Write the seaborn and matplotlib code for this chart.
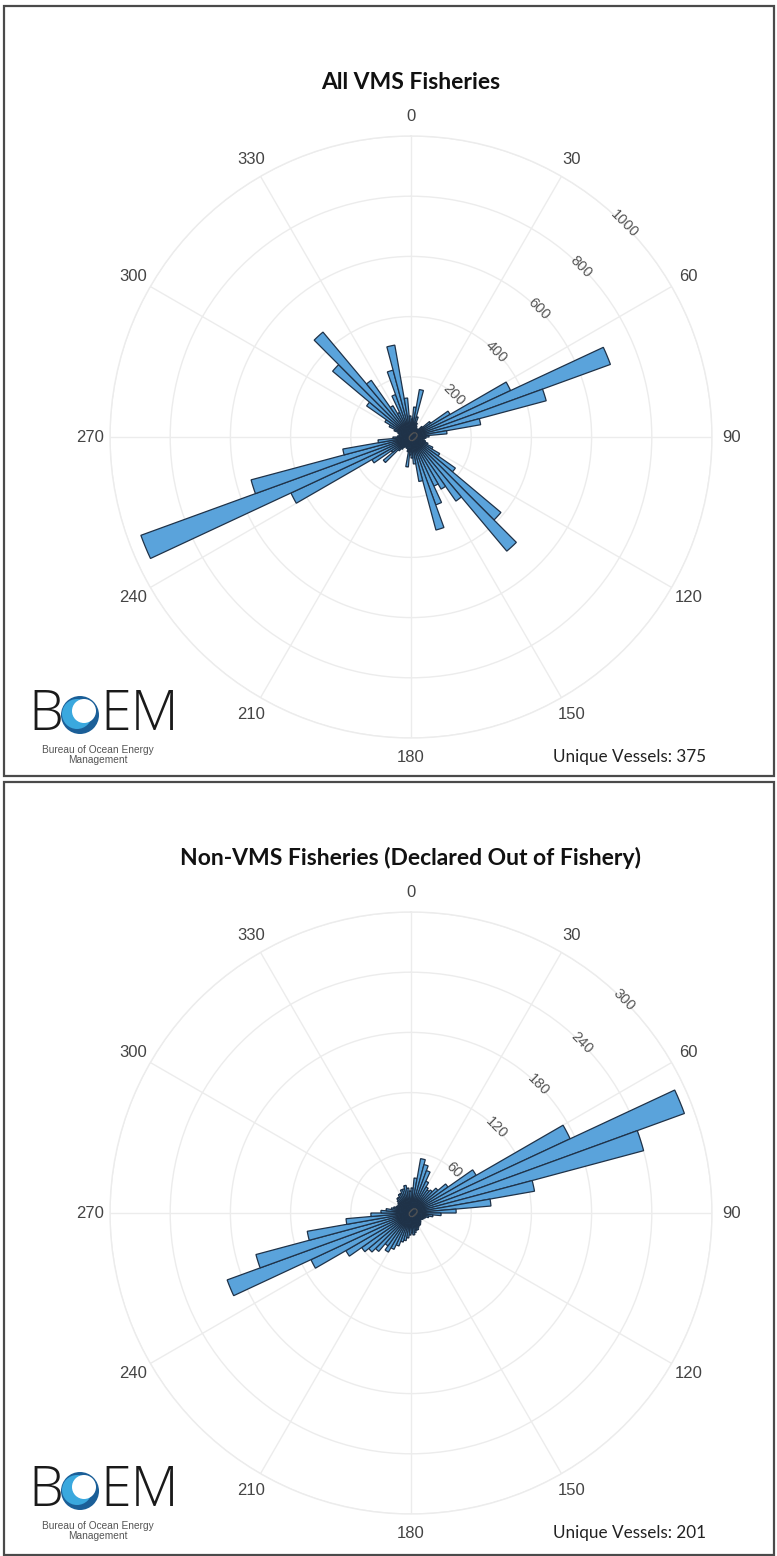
import numpy as np
import matplotlib
matplotlib.use("Agg")
import matplotlib.pyplot as plt
import seaborn as sns
from matplotlib.patches import Rectangle, Circle

# Heading bins (degrees, 5-degree wide, clockwise from north)
bin_starts = np.arange(0, 360, 5)

# Record counts per heading bin: all VMS fisheries
all_vms = [
    60, 100, 160, 70, 50, 40, 35, 30, 35, 50, 80, 150,          # 0-55
    365, 705, 465, 235, 120, 60,                                # 60-85
    50, 45, 40, 50, 60, 80, 110, 180, 390, 495, 260, 200,       # 90-145
    180, 240, 320, 150, 90, 70,                                 # 150-175
    60, 100, 50, 40, 40, 35, 40, 50, 60, 120, 80, 150,          # 180-235
    440, 955, 550, 230, 110, 60,                                # 240-265
    45, 40, 40, 45, 60, 80, 100, 180, 340, 455, 230, 120,       # 270-325
    90, 150, 230, 310, 130, 70,                                 # 330-355
]

# Record counts per heading bin: non-VMS fisheries (declared out of fishery)
non_vms = [
    25, 35, 55, 50, 45, 35, 30, 28, 30, 35, 45, 75,             # 0-55
    175, 290, 240, 125, 80, 45,                                 # 60-85
    30, 22, 18, 15, 14, 13, 12, 12, 13, 14, 15, 15,             # 90-145
    16, 18, 18, 20, 22, 20,                                     # 150-175
    22, 25, 28, 30, 35, 40, 45, 40, 50, 55, 60, 75,             # 180-235
    110, 195, 160, 105, 65, 40,                                 # 240-265
    30, 25, 20, 18, 16, 15, 15, 16, 18, 20, 20, 22,             # 270-325
    22, 25, 25, 28, 25, 22,                                     # 330-355
]

angle_ticks = list(range(0, 360, 30))
all_rticks = [200, 400, 600, 800, 1000]
non_rticks = [60, 120, 180, 240, 300]
titles = ["All VMS Fisheries", "Non-VMS Fisheries (Declared Out of Fishery)"]
vessel_counts = [375, 201]

sns.set_theme(style="white")
plt.rcParams['font.family'] = ['Liberation Sans', 'DejaVu Sans']

BAR_FILL = "#5AA3DB"
BAR_EDGE = "#1F3248"
GRID = "#ececec"

W, H = 777, 1556
fig = plt.figure(figsize=(W / 100, H / 100), dpi=100)
fig.patch.set_facecolor("white")

# Full-figure overlay in pixel units for frames, titles and logos
frame = fig.add_axes([0, 0, 1, 1])
frame.set_xlim(0, W)
frame.set_ylim(H, 0)
frame.axis("off")

panels = [
    dict(top=6, bottom=777, cy=437, values=all_vms, rticks=all_rticks),
    dict(top=782, bottom=1556, cy=1213, values=non_vms, rticks=non_rticks),
]

CX, R = 411, 301


def polar_rect(cx, cy, r):
    return [(cx - r) / W, 1 - (cy + r) / H, 2 * r / W, 2 * r / H]


def draw_logo(x0, yc):
    frame.text(x0, yc, "B", fontsize=40, family="Open Sans", fontweight=300,
               color="#1a1a1a", ha="left", va="center")
    ox, r = x0 + 52, 19
    frame.add_patch(Circle((ox, yc), r, facecolor="#1b5f98", edgecolor="none"))
    frame.add_patch(Circle((ox - 3, yc - 1), r - 4, facecolor="#3aa8de", edgecolor="none"))
    frame.add_patch(Circle((ox + 4, yc - 4), r - 7, facecolor="white", edgecolor="none"))
    frame.text(ox + 20, yc, "EM", fontsize=40, family="Open Sans", fontweight=300,
               color="#1a1a1a", ha="left", va="center")
    frame.text(x0 + 70, yc + 35, "Bureau of Ocean Energy", fontsize=7.3,
               color="#555555", ha="center", va="center")
    frame.text(x0 + 70, yc + 45, "Management", fontsize=7.3,
               color="#555555", ha="center", va="center")


for i, p in enumerate(panels):
    # panel frame
    frame.add_patch(Rectangle((4, p["top"]), W - 7, p["bottom"] - p["top"] - 1,
                              fill=False, edgecolor="#4a4a4a", linewidth=1.6))

    frame.text(CX, p["top"] + 76, titles[i], fontsize=16.5, family="Lato",
               fontweight="bold", color="#111111", ha="center", va="center")
    frame.text(630, p["top"] + 751, f"Unique Vessels: {vessel_counts[i]}",
               fontsize=12.3, family="Lato", color="#222222", ha="center", va="center")
    draw_logo(28, p["top"] + 709)

    rmax = p["rticks"][-1]
    ax = fig.add_axes(polar_rect(CX, p["cy"], R), projection="polar")
    ax.set_facecolor("none")
    ax.set_theta_zero_location("N")
    ax.set_theta_direction(-1)

    theta = np.deg2rad(bin_starts + 2.5)
    ax.bar(theta, p["values"], width=np.deg2rad(5), color=BAR_FILL,
           edgecolor=BAR_EDGE, linewidth=0.9, zorder=3)

    ax.set_ylim(0, rmax)
    ax.set_yticks(p["rticks"])
    ax.set_yticklabels([])
    ax.set_xticks(np.deg2rad(angle_ticks))
    ax.set_xticklabels([])
    ax.grid(True, color=GRID, linewidth=1.0)
    ax.spines["polar"].set_color(GRID)
    ax.spines["polar"].set_linewidth(1.0)

    for a in angle_ticks:
        ax.text(np.deg2rad(a), rmax * 1.065, str(a), ha="center", va="center",
                fontsize=12, color="#444444", clip_on=False)
    for r in [0] + p["rticks"]:
        ax.text(np.deg2rad(45), r, str(r), rotation=-45, rotation_mode="anchor",
                ha="center", va="center", fontsize=10.5, color="#555555", zorder=5)

fig.savefig("out.png", dpi=100, facecolor="white")
